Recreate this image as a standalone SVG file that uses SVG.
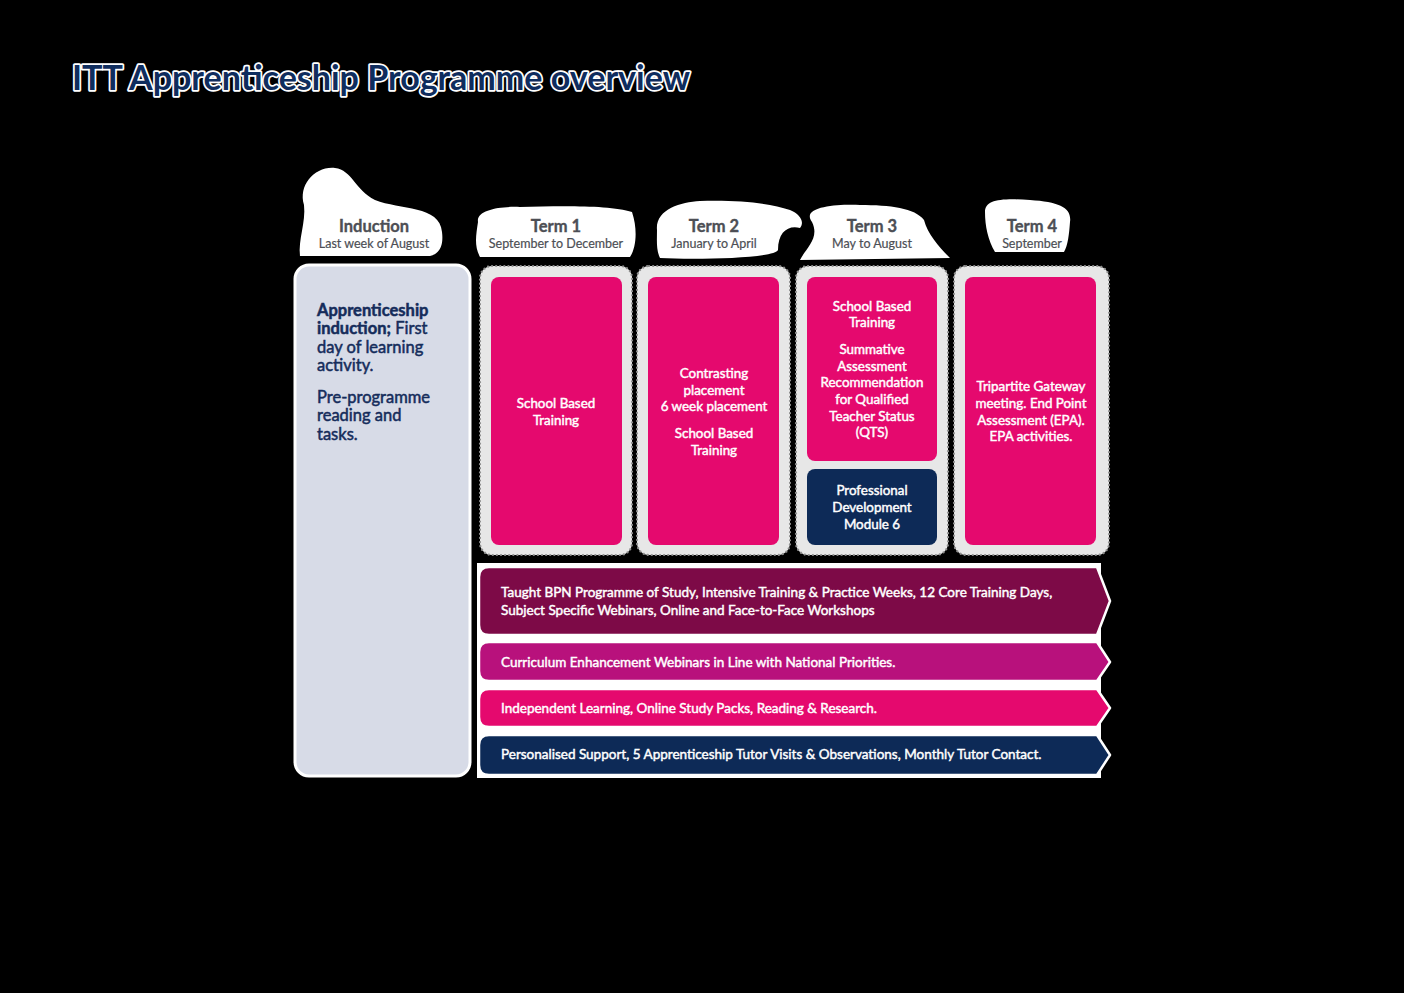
<svg xmlns="http://www.w3.org/2000/svg" width="1404" height="993" viewBox="0 0 1404 993">
<style>
.hd{font-family:Lato,"Liberation Sans",sans-serif;font-weight:700;font-size:16.5px;fill:#4d4f55;stroke:#4d4f55;stroke-width:0.35;text-anchor:middle}
.sub{font-family:Lato,"Liberation Sans",sans-serif;font-weight:400;font-size:12.5px;fill:#4d4f55;stroke:#4d4f55;stroke-width:0.2;text-anchor:middle}
.bx{font-family:Lato,"Liberation Sans",sans-serif;font-weight:400;font-size:13.4px;fill:#ffffff;stroke:#ffffff;stroke-width:0.45;text-anchor:middle}
.bd{font-family:Lato,"Liberation Sans",sans-serif;font-weight:400;font-size:13.5px;fill:#ffffff;stroke:#ffffff;stroke-width:0.45}
.ind{font-family:Lato,"Liberation Sans",sans-serif;font-weight:400;font-size:16.5px;fill:#152c5b;stroke:#152c5b;stroke-width:0.5}
.cont{fill:#e7e7e7;stroke:#8f8f8f;stroke-width:2.2;stroke-dasharray:0.1 4;stroke-linecap:round}
.pink{fill:#e5096e}
.blob{fill:#ffffff}
.band{stroke:#ffffff;stroke-width:2.5;stroke-linejoin:round}
</style>
<rect width="1404" height="993" fill="#000000"/>
<g id="title">
<text x="72" y="90" font-family="Lato,'Liberation Sans',sans-serif" font-weight="700" font-size="34" fill="#0f2d5e" stroke="#ffffff" stroke-width="3.5" paint-order="stroke" stroke-linejoin="round" textLength="618" lengthAdjust="spacingAndGlyphs">ITT Apprenticeship Programme overview</text>
</g>
<g id="header-blobs">
<path class="blob" d="M304,205 C298,185 315,166 335,168 C352,170 355,190 375,200 C400,210 440,205 442,232 C444,248 438,254 430,256 L300,256 C298,240 306,222 304,205 Z"/>
<path class="blob" d="M478,222 C476,210 500,206 520,207 C560,206 610,205 632,212 C638,230 636,248 630,257 L480,257 C474,246 476,235 478,222 Z"/>
<path class="blob" d="M657,230 C655,210 680,202 700,201 C740,200 770,203 790,210 C800,214 805,222 800,228 C788,225 778,232 778,250 C775,258 700,260 660,258 C656,250 657,240 657,230 Z"/>
<path class="blob" d="M812,222 C800,206 840,204 860,205 C890,205 915,208 924,220 C928,235 940,248 950,258 L800,260 C806,248 820,238 812,222 Z"/>
<path class="blob" d="M985,212 C985,200 1000,198 1030,200 C1060,202 1072,208 1070,222 C1069,235 1068,245 1064,252 L995,252 C988,240 985,226 985,212 Z"/>
</g>
<g id="induction">
<rect x="295" y="265" width="175" height="511" rx="14" fill="#d7dbe7" stroke="#ffffff" stroke-width="3"/>
<text class="hd" x="374" y="232">Induction</text>
<text class="sub" x="374" y="248">Last week of August</text>
<text class="ind" x="317" y="316"><tspan font-weight="700">Apprenticeship</tspan></text>
<text class="ind" x="317" y="334"><tspan font-weight="700">induction;</tspan> First</text>
<text class="ind" x="317" y="353">day of learning</text>
<text class="ind" x="317" y="371">activity.</text>
<text class="ind" x="317" y="403">Pre-programme</text>
<text class="ind" x="317" y="421">reading and</text>
<text class="ind" x="317" y="440">tasks.</text>
</g>
<g id="term1">
<text class="hd" x="556" y="232">Term 1</text>
<text class="sub" x="556" y="248">September to December</text>
<rect class="cont" x="480" y="266" width="152" height="289" rx="12"/>
<rect class="pink" x="491" y="277" width="131" height="268" rx="8"/>
<text class="bx" x="556" y="408">School Based</text>
<text class="bx" x="556" y="425">Training</text>
</g>
<g id="term2">
<text class="hd" x="714" y="232">Term 2</text>
<text class="sub" x="714" y="248">January to April</text>
<rect class="cont" x="637" y="266" width="153" height="289" rx="12"/>
<rect class="pink" x="648" y="277" width="131" height="268" rx="8"/>
<text class="bx" x="714" y="378">Contrasting</text>
<text class="bx" x="714" y="395">placement</text>
<text class="bx" x="714" y="411">6 week placement</text>
<text class="bx" x="714" y="438">School Based</text>
<text class="bx" x="714" y="455">Training</text>
</g>
<g id="term3">
<text class="hd" x="872" y="232">Term 3</text>
<text class="sub" x="872" y="248">May to August</text>
<rect class="cont" x="796" y="266" width="152" height="289" rx="12"/>
<rect class="pink" x="807" y="277" width="130" height="184" rx="8"/>
<text class="bx" x="872" y="311">School Based</text>
<text class="bx" x="872" y="327">Training</text>
<text class="bx" x="872" y="354">Summative</text>
<text class="bx" x="872" y="371">Assessment</text>
<text class="bx" x="872" y="387">Recommendation</text>
<text class="bx" x="872" y="404">for Qualified</text>
<text class="bx" x="872" y="421">Teacher Status</text>
<text class="bx" x="872" y="437">(QTS)</text>
</g>
<g id="module6">
<rect x="807" y="469" width="130" height="76" rx="8" fill="#0d2a57"/>
<text class="bx" x="872" y="495">Professional</text>
<text class="bx" x="872" y="512">Development</text>
<text class="bx" x="872" y="529">Module 6</text>
</g>
<g id="term4">
<text class="hd" x="1032" y="232">Term 4</text>
<text class="sub" x="1032" y="248">September</text>
<rect class="cont" x="954" y="266" width="155" height="289" rx="12"/>
<rect class="pink" x="965" y="277" width="131" height="268" rx="8"/>
<text class="bx" x="1031" y="391">Tripartite Gateway</text>
<text class="bx" x="1031" y="408">meeting. End Point</text>
<text class="bx" x="1031" y="425">Assessment (EPA).</text>
<text class="bx" x="1031" y="441">EPA activities.</text>
</g>
<g id="bands-backing">
<rect x="477" y="563" width="624" height="215" fill="#ffffff"/>
</g>
<g id="band1">
<path class="band" d="M489,567 L1097,567 L1110,601 L1097,635 L489,635 Q479,635 479,625 L479,577 Q479,567 489,567 Z" fill="#7d0a47"/>
<text class="bd" x="501" y="597">Taught BPN Programme of Study, Intensive Training &amp; Practice Weeks, 12 Core Training Days,</text>
<text class="bd" x="501" y="615">Subject Specific Webinars, Online and Face-to-Face Workshops</text>
</g>
<g id="band2">
<path class="band" d="M489,642 L1097,642 L1110,662 L1097,681 L489,681 Q479,681 479,671 L479,652 Q479,642 489,642 Z" fill="#b8117c"/>
<text class="bd" x="501" y="667">Curriculum Enhancement Webinars in Line with National Priorities.</text>
</g>
<g id="band3">
<path class="band" d="M489,689 L1097,689 L1110,708 L1097,727 L489,727 Q479,727 479,717 L479,699 Q479,689 489,689 Z" fill="#e5096e"/>
<text class="bd" x="501" y="713">Independent Learning, Online Study Packs, Reading &amp; Research.</text>
</g>
<g id="band4">
<path class="band" d="M489,735 L1097,735 L1110,755 L1097,775 L489,775 Q479,775 479,765 L479,745 Q479,735 489,735 Z" fill="#0d2a57"/>
<text class="bd" x="501" y="759">Personalised Support, 5 Apprenticeship Tutor Visits &amp; Observations, Monthly Tutor Contact.</text>
</g>
<g id="connectors"></g>
</svg>
